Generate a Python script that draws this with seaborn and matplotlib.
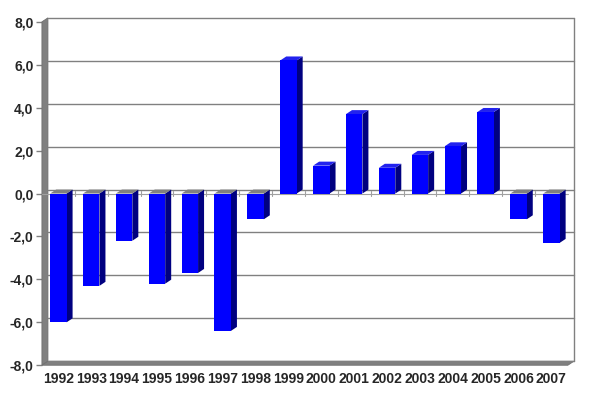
import numpy as np
import pandas as pd
import seaborn as sns
import matplotlib
matplotlib.use("Agg")
import matplotlib.pyplot as plt
from matplotlib.patches import Polygon

years = [str(y) for y in range(1992, 2008)]
values = [-6.0, -4.3, -2.2, -4.2, -3.7, -6.4, -1.2, 6.2, 1.3, 3.7, 1.2, 1.8, 2.2, 3.8, -1.2, -2.3]
yticks = [-8, -6, -4, -2, 0, 2, 4, 6, 8]
ytick_labels = ["-8,0", "-6,0", "-4,0", "-2,0", "0,0", "2,0", "4,0", "6,0", "8,0"]

sns.set_style("white")
plt.rcParams["font.family"] = ["Liberation Sans", "DejaVu Sans"]

W, H, DPI = 5.99, 3.97, 100
fig = plt.figure(figsize=(W, H), dpi=DPI)
ax = fig.add_axes([0.070, 0.080, 0.878, 0.865])
df = pd.DataFrame({"year": years, "value": values})
sns.barplot(data=df, x="year", y="value", color="#0000FF", width=0.5,
            saturation=1, ax=ax, edgecolor="none", zorder=5)
xmin, xmax, ymin, ymax = -0.5, len(years) - 0.5, -8, 8
ax.set_xlim(xmin, xmax)
ax.set_ylim(ymin, ymax)
for s in ax.spines.values():
    s.set_visible(False)

# depth offsets in data units (6 px right, 4 px up)
axw = 0.878 * W * DPI
axh = 0.865 * H * DPI
dx = 6 * (xmax - xmin) / axw
dy = 4 * (ymax - ymin) / axh

gray = "#808080"
# left wall
ax.add_patch(Polygon([(xmin, ymin), (xmin, ymax), (xmin + dx, ymax + dy), (xmin + dx, ymin + dy)],
                     closed=True, facecolor=gray, edgecolor="#707070", lw=0.6, clip_on=False, zorder=1))
# floor
ax.add_patch(Polygon([(xmin, ymin), (xmax, ymin), (xmax + dx, ymin + dy), (xmin + dx, ymin + dy)],
                     closed=True, facecolor=gray, edgecolor="#707070", lw=0.6, clip_on=False, zorder=1))
# back wall gridlines and border
for t in yticks:
    ax.plot([xmin + dx, xmax + dx], [t + dy, t + dy], color=gray, lw=1.0, clip_on=False, zorder=2)
ax.plot([xmax + dx, xmax + dx], [ymin + dy, ymax + dy], color=gray, lw=1.0, clip_on=False, zorder=2)

# zero plane line with category ticks
ax.plot([xmin, xmax], [0, 0], color="#a0a0a0", lw=0.8, zorder=3, clip_on=False)
for b in np.arange(xmin + 1, xmax, 1.0):
    ax.plot([b, b], [-0.1, 0.1], color="#a0a0a0", lw=0.8, zorder=3)

# 3D faces of bars
for p in ax.patches:
    if not hasattr(p, "get_width") or p.get_facecolor()[2] < 0.9 or p.get_zorder() != 5:
        continue
    x0 = p.get_x()
    x1 = x0 + p.get_width()
    y0 = min(p.get_y(), p.get_y() + p.get_height())
    y1 = max(p.get_y(), p.get_y() + p.get_height())
    ax.add_patch(Polygon([(x1, y0), (x1, y1), (x1 + dx, y1 + dy), (x1 + dx, y0 + dy)],
                         closed=True, facecolor="#000080", edgecolor="none", zorder=4, clip_on=False))
    topc = "#2222EE" if y1 > 0 else gray
    ax.add_patch(Polygon([(x0, y1), (x1, y1), (x1 + dx, y1 + dy), (x0 + dx, y1 + dy)],
                         closed=True, facecolor=topc, edgecolor="none", zorder=4, clip_on=False))

ax.set_yticks(yticks)
ax.set_yticklabels(ytick_labels, fontsize=10, fontweight="bold")
ax.tick_params(axis="y", length=4, width=1, color=gray, pad=2, left=True)
ax.set_xticks(range(len(years)))
ax.set_xticklabels(years, fontsize=10, fontweight="bold")
ax.tick_params(axis="x", length=0, pad=5)
ax.set_xlabel("")
ax.set_ylabel("")
ax.set_facecolor("white")
ax.grid(False)

fig.savefig("out.png", dpi=DPI, facecolor="white")
